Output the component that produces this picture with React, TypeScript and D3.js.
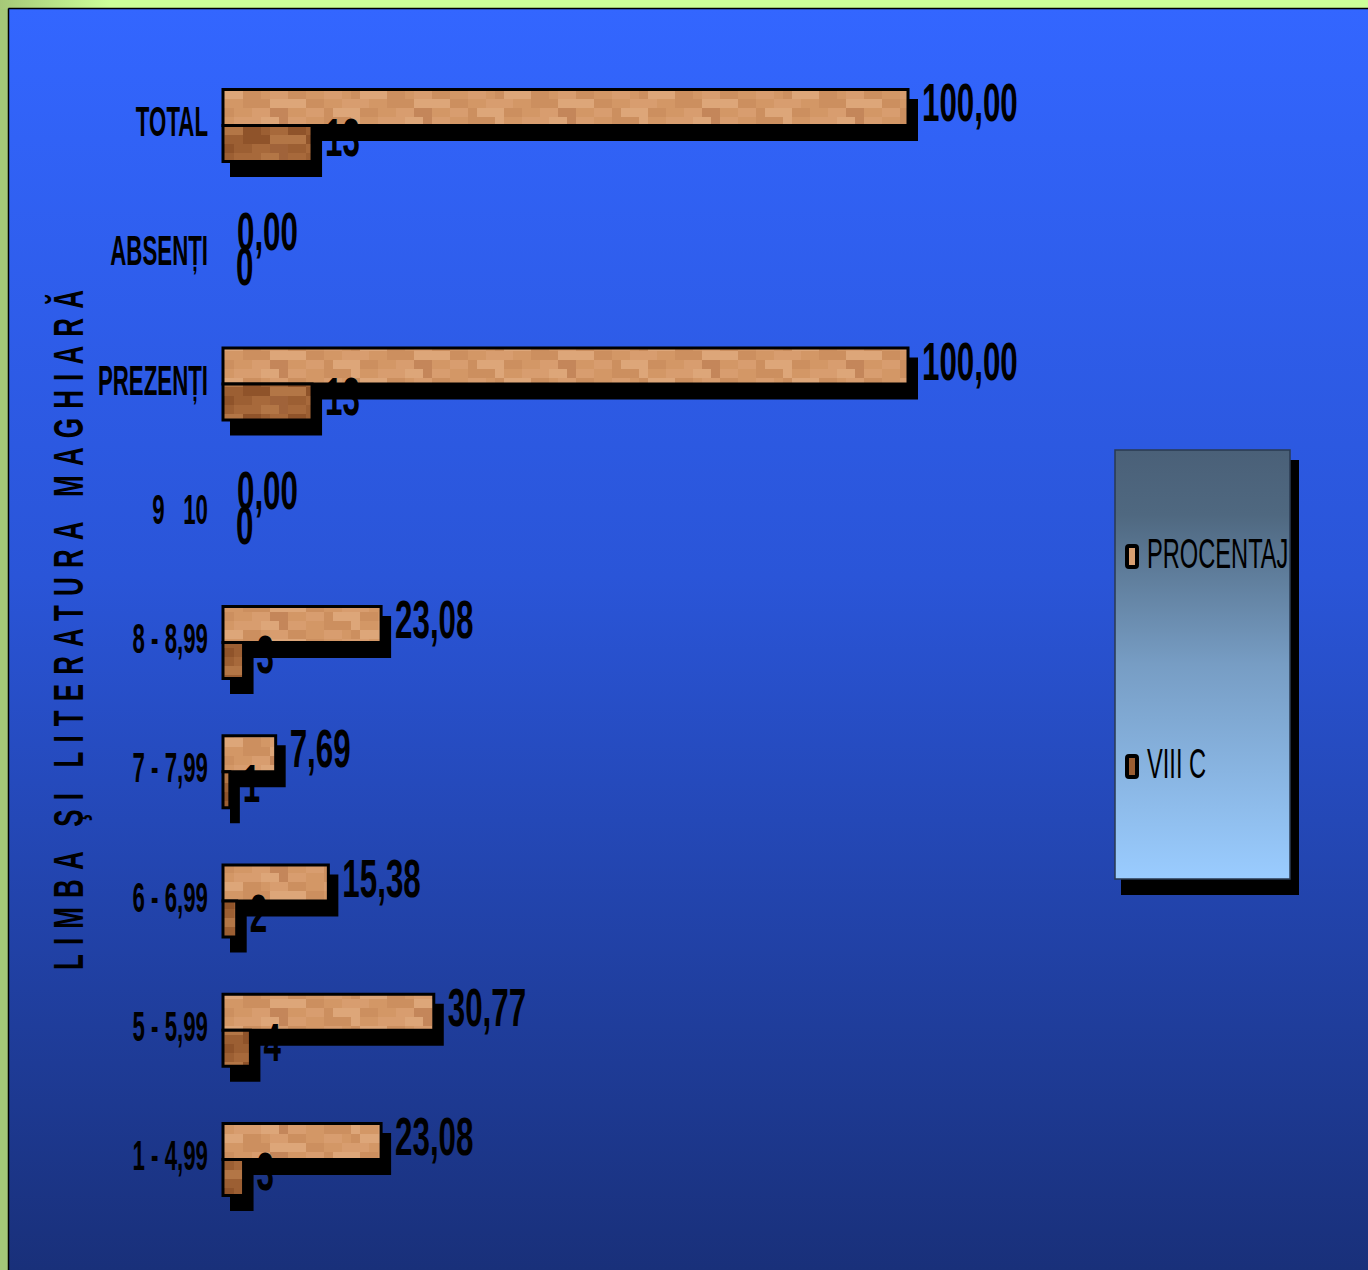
import React, { useEffect } from "react";
import * as d3 from "d3";

const categories = ["TOTAL", "ABSENȚI", "PREZENȚI", "9   10", "8 - 8,99", "7 - 7,99", "6 - 6,99", "5 - 5,99", "1 - 4,99"];
const procentaj = [100, 0, 100, 0, 23.08, 7.69, 15.38, 30.77, 23.08];
const viiiC = [13, 0, 13, 0, 3, 1, 2, 4, 3];
const seriesNames = ["PROCENTAJ", "VIII C"];
const axisTitle = "LIMBA ŞI LITERATURA MAGHIARĂ";

const W = 1368;
const H = 1270;

// texture shading (style only)
const texRows = [
  "1100233322110044",
  "0011222311000334",
  "2211001233322100",
  "3322110001122233",
];
const tanShades = ["#d89d6f", "#d39766", "#cc8f5f", "#dda679", "#c4865a"];
const brownShades = ["#a7693b", "#9c5f33", "#8f532a", "#b37646", "#a0633a"];

function Texture({ id, shades }: { id: string; shades: string[] }) {
  const s = 9;
  const cols = texRows[0].length;
  return (
    <pattern id={id} patternUnits="userSpaceOnUse" width={s * cols} height={s * 4}>
      {texRows.map((row, r) =>
        row.split("").map((c, i) => (
          <rect key={`${r}-${i}`} x={i * s} y={r * s} width={s} height={s} fill={shades[+c]} />
        ))
      )}
    </pattern>
  );
}

export default function App() {
  useEffect(() => {
    document.body.style.margin = "0";
  }, []);

  const x = d3.scaleLinear().domain([0, 100]).range([223, 908]);
  const y = d3.scaleBand<string>().domain(categories).range([88, 88 + 9 * 129.25]).padding(0);
  const barH = 36;
  const fmtP = (v: number) => v.toFixed(2).replace(".", ",");
  const fmtC = (v: number) => String(v);
  const font = "'Liberation Sans', Arial, sans-serif";

  return (
    <svg width={W} height={H} style={{ display: "block", position: "absolute", left: 0, top: 0 }}>
      <defs>
        <linearGradient id="bg" x1="0" y1="0" x2="0" y2="1">
          <stop offset="0" stopColor="#3366ff" />
          <stop offset="0.45" stopColor="#2a55d8" />
          <stop offset="1" stopColor="#19307a" />
        </linearGradient>
        <linearGradient id="frameTop" x1="0" y1="0" x2="1" y2="0">
          <stop offset="0" stopColor="#a6c878" />
          <stop offset="0.08" stopColor="#ccff99" />
          <stop offset="1" stopColor="#ccff99" />
        </linearGradient>
        <linearGradient id="legendBg" x1="0" y1="0" x2="0" y2="1">
          <stop offset="0" stopColor="#4a6078" />
          <stop offset="0.15" stopColor="#4f6880" />
          <stop offset="0.5" stopColor="#779dc4" />
          <stop offset="1" stopColor="#9accff" />
        </linearGradient>
        <Texture id="texP" shades={tanShades} />
        <Texture id="texC" shades={brownShades} />
      </defs>

      {/* frame */}
      <rect x={0} y={0} width={W} height={H} fill="#a4c878" />
      <rect x={0} y={0} width={W} height={9} fill="url(#frameTop)" />
      <rect x={8} y={8} width={W - 8} height={H - 8} fill="url(#bg)" />
      <line x1={8.5} y1={8.5} x2={W} y2={8.5} stroke="#000" strokeWidth={1.5} />
      <line x1={8.5} y1={8.5} x2={8.5} y2={H} stroke="#000" strokeWidth={1.5} />

      {/* axis title */}
      <g transform={`translate(83, 630) rotate(-90)`}>
        <text
          transform="scale(0.62,1)"
          textAnchor="middle"
          fontFamily={font}
          fontWeight="bold"
          fontSize={42}
          fill="#000"
          textLength={680 / 0.62}
          lengthAdjust="spacing"
        >
          {axisTitle}
        </text>
      </g>

      {/* category labels */}
      {categories.map((c) => (
        <text
          key={c}
          transform={`translate(208, ${(y(c) as number) + 48}) scale(0.53,1)`}
          textAnchor="end"
          fontFamily={font}
          fontWeight="bold"
          fontSize={42}
          fill="#000"
          style={{ whiteSpace: "pre" }}
        >
          {c}
        </text>
      ))}

      {/* shadows */}
      {categories.map((c, i) => {
        const top = y(c) as number;
        const p = procentaj[i];
        const v = viiiC[i];
        return (
          <g key={`s-${c}`}>
            {p > 0 && (
              <rect x={x(0) + 7} y={top + 11} width={x(p) - x(0) + 3} height={42} fill="#000" />
            )}
            {v > 0 && (
              <rect x={x(0) + 7} y={top + 47} width={x(v) - x(0) + 3} height={42} fill="#000" />
            )}
          </g>
        );
      })}

      {/* bars */}
      {categories.map((c, i) => {
        const top = y(c) as number;
        const p = procentaj[i];
        const v = viiiC[i];
        return (
          <g key={`b-${c}`}>
            {p > 0 && (
              <rect
                x={x(0)}
                y={top + 1.5}
                width={x(p) - x(0)}
                height={barH}
                fill="url(#texP)"
                stroke="#000"
                strokeWidth={3}
              />
            )}
            {v > 0 && (
              <rect
                x={x(0)}
                y={top + 1.5 + barH}
                width={x(v) - x(0)}
                height={barH}
                fill="url(#texC)"
                stroke="#000"
                strokeWidth={3}
              />
            )}
          </g>
        );
      })}

      {/* value labels */}
      {categories.map((c, i) => {
        const top = y(c) as number;
        return (
          <g key={`l-${c}`} fontFamily={font} fontWeight="bold" fontSize={54} fill="#000">
            <text transform={`translate(${x(procentaj[i]) + 14}, ${top + 33}) scale(0.58,1)`}>
              {fmtP(procentaj[i])}
            </text>
            <text transform={`translate(${x(viiiC[i]) + 13}, ${top + 68}) scale(0.58,1)`}>
              {fmtC(viiiC[i])}
            </text>
          </g>
        );
      })}

      {/* legend */}
      <rect x={1121} y={460} width={178} height={435} fill="#000" />
      <rect x={1115} y={450} width={175} height={429} fill="url(#legendBg)" stroke="#2a3a50" strokeWidth={1.5} />
      {seriesNames.map((n, i) => {
        const ly = i === 0 ? 568 : 778;
        return (
          <g key={n}>
            <rect
              x={1127}
              y={ly - 22}
              width={10}
              height={21}
              rx={2}
              fill={i === 0 ? "#d9a072" : "#9b5d31"}
              stroke="#000"
              strokeWidth={4}
            />
            <text
              transform={`translate(1147, ${ly}) scale(0.55,1)`}
              fontFamily={font}
              fontSize={43}
              fill="#000"
            >
              {n}
            </text>
          </g>
        );
      })}
    </svg>
  );
}
